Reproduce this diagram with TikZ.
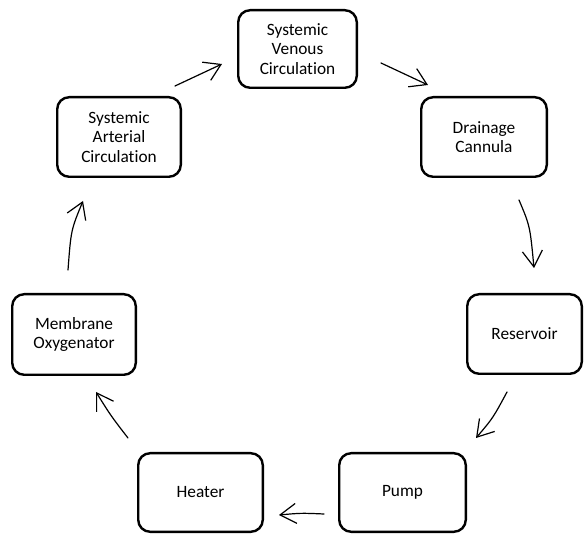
\documentclass[tikz,border=0pt]{standalone}
\usepackage{fontspec}
\setmainfont{Carlito}[Ligatures={NoCommon}]
\usetikzlibrary{arrows.meta}
\begin{document}
\begin{tikzpicture}[x=1pt,y=-1pt,
  box/.style={draw, line width=2.4pt, rounded corners=12pt, align=center,
    font=\fontsize{17.3}{19.5}\selectfont, inner sep=0pt},
  flow/.style={line width=1.2pt, line cap=round,
    -{Straight Barb[length=16pt,width=20pt,line width=1.2pt]}}]
\useasboundingbox (0,0) rectangle (584,534);

\node[box, minimum width=118.6pt, minimum height=77.6pt] (venous) at (297.5,49) {Systemic\\Venous\\Circulation};
\node[box, minimum width=125.6pt, minimum height=79.6pt] (drain) at (484,137) {Drainage\\Cannula};
\node[box, minimum width=114.6pt, minimum height=79.6pt] (res) at (524.5,334) {Reservoir};
\node[box, minimum width=126.6pt, minimum height=78.6pt] (pump) at (402.5,492.5) {Pump};
\node[box, minimum width=124.6pt, minimum height=78.6pt] (heat) at (200.5,492.5) {Heater};
\node[box, minimum width=123.6pt, minimum height=80.6pt] (oxy) at (74,334.5) {Membrane\\Oxygenator};
\node[box, minimum width=123.6pt, minimum height=79.6pt] (art) at (119,137) {Systemic\\Arterial\\Circulation};

\coordinate (a1s) at (175,86);   \coordinate (a1e) at (222,64);
\coordinate (a2s) at (381,63);   \coordinate (a2e) at (428,85);
\coordinate (a3s) at (519,200);  \coordinate (a3e) at (534,268);
\coordinate (a4s) at (507,392);  \coordinate (a4e) at (476,438);
\coordinate (a5s) at (324,514);  \coordinate (a5e) at (279,515);
\coordinate (a6s) at (128,438);  \coordinate (a6e) at (96,392);
\coordinate (a7s) at (68,270);   \coordinate (a7e) at (83,201);

\draw[flow] (a1s) -- (a1e);
\draw[flow] (a2s) -- (a2e);
\draw[flow] (a3s) .. controls (530,226) .. (a3e);
\draw[flow] (a4s) .. controls (493,418) .. (a4e);
\draw[flow] (a5s) .. controls (301,513) .. (a5e);
\draw[flow] (a6s) .. controls (111,416) .. (a6e);
\draw[flow] (a7s) .. controls (71,230) .. (a7e);
\end{tikzpicture}
\end{document}
